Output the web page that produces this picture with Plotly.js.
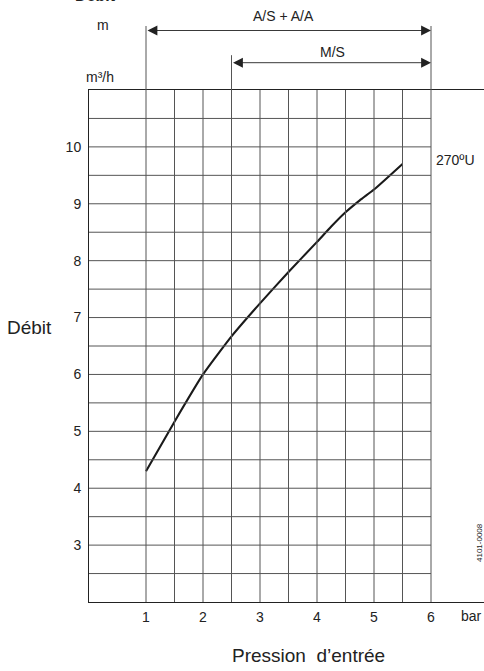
<!DOCTYPE html>
<html>
<head>
<meta charset="utf-8">
<script src="https://cdn.plot.ly/plotly-3.0.1.min.js"></script>
<style>html,body{margin:0;padding:0;background:#fff;}#chart{width:484px;height:671px;}</style>
</head>
<body>
<div id="chart"></div>
<script>
// Data
var pressure = [1, 1.5, 2, 2.5, 3, 3.5, 4, 4.25, 4.5, 4.75, 5, 5.5];
var flow =     [4.3, 5.17, 6.0, 6.67, 7.25, 7.8, 8.33, 8.6, 8.85, 9.06, 9.25, 9.7];
var xTicks = [1, 2, 3, 4, 5, 6];
var yTicks = [3, 4, 5, 6, 7, 8, 9, 10];
var seriesLabel = "270ºU";
var rangeAS = [1, 6];   // A/S + A/A
var rangeMS = [2.5, 6]; // M/S

var font = "Liberation Sans, Arial, sans-serif";
var txt = "#222";
var gridCol = "#555";

var shapes = [];
for (var gx = 1; gx <= 6.001; gx += 0.5) {
  shapes.push({type:'line', xref:'x', yref:'y', x0:gx, x1:gx, y0:2, y1:11, line:{color:gridCol, width:1}});
}
for (var gy = 2.5; gy <= 10.501; gy += 0.5) {
  shapes.push({type:'line', xref:'x', yref:'y', x0:0, x1:6, y0:gy, y1:gy, line:{color:gridCol, width:1}});
}
shapes.push({type:'line', xref:'x', yref:'paper', x0:rangeAS[0], x1:rangeAS[0], y0:1, y1:1.125, line:{color:gridCol, width:1}});
shapes.push({type:'line', xref:'x', yref:'paper', x0:rangeAS[1], x1:rangeAS[1], y0:1, y1:1.125, line:{color:gridCol, width:1}});
shapes.push({type:'line', xref:'x', yref:'paper', x0:rangeMS[0], x1:rangeMS[0], y0:1, y1:1.068, line:{color:gridCol, width:1}});

function lab(xr, yr, x, y, text, size, extra) {
  var a = {xref:xr, yref:yr, x:x, y:y, text:text, showarrow:false, xanchor:'center', yanchor:'middle',
           font:{family:font, size:size, color:txt}};
  if (extra) for (var k in extra) a[k] = extra[k];
  return a;
}
function py(p) { return (602 - p) / 512; }   // page pixel y -> paper y
function px(p) { return (p - 89) / 395; }    // page pixel x -> paper x

var annotations = [
  {xref:'x', yref:'paper', x:rangeAS[1], y:py(30.5), axref:'x', ayref:'pixel', ax:rangeAS[0], ay:0,
   text:'', showarrow:true, arrowside:'end+start', arrowhead:2, arrowsize:2.2, arrowwidth:0.9, arrowcolor:'#222', standoff:0, startstandoff:0},
  {xref:'x', yref:'paper', x:rangeMS[1], y:py(62.7), axref:'x', ayref:'pixel', ax:rangeMS[0], ay:0,
   text:'', showarrow:true, arrowside:'end+start', arrowhead:2, arrowsize:2.2, arrowwidth:0.9, arrowcolor:'#222', standoff:0, startstandoff:0},
  lab('paper','paper', px(283), py(16), 'A/S + A/A', 14),
  lab('paper','paper', px(332), py(52), 'M/S', 14),
  lab('paper','paper', px(103), py(25), 'm', 14),
  lab('paper','paper', px(100), py(77), 'm³/h', 14),
  lab('paper','paper', px(95), py(6), '<b>Débit</b>', 16, {yanchor:'bottom'}),
  lab('paper','paper', px(434), py(160), seriesLabel, 14, {xanchor:'left'}),
  lab('paper','paper', px(471), py(616), 'bar', 14),
  lab('paper','paper', px(29), py(327), 'Débit', 19),
  lab('paper','paper', px(308), py(655), 'Pression  d’entrée', 19),
  lab('paper','paper', px(479), py(543), '4101-0008', 8, {textangle:-90})
];

var trace = {
  x: pressure, y: flow, type:'scatter', mode:'lines',
  line:{color:'#1a1a1a', width:2.1, shape:'spline', smoothing:0.5},
  hoverinfo:'skip'
};

var layout = {
  width:484, height:671,
  margin:{l:89, r:0, t:90, b:69, pad:0},
  paper_bgcolor:'#fff', plot_bgcolor:'#fff',
  showlegend:false,
  xaxis:{range:[0, 395/57], tickvals:xTicks, ticktext:xTicks.map(String), showgrid:false, zeroline:false,
         showline:true, mirror:true, linecolor:'#222', linewidth:1,
         ticks:'outside', ticklen:2, tickcolor:'rgba(0,0,0,0)',
         tickfont:{family:font, size:14, color:txt}, fixedrange:true},
  yaxis:{range:[2, 11], tickvals:yTicks, ticktext:yTicks.map(String), showgrid:false, zeroline:false,
         showline:true, mirror:false, linecolor:'#222', linewidth:1,
         ticks:'outside', ticklen:4, tickcolor:'rgba(0,0,0,0)',
         tickfont:{family:font, size:14, color:txt}, fixedrange:true},
  shapes:shapes,
  annotations:annotations
};

Plotly.newPlot('chart', [trace], layout, {displayModeBar:false, staticPlot:true});
</script>
</body>
</html>
